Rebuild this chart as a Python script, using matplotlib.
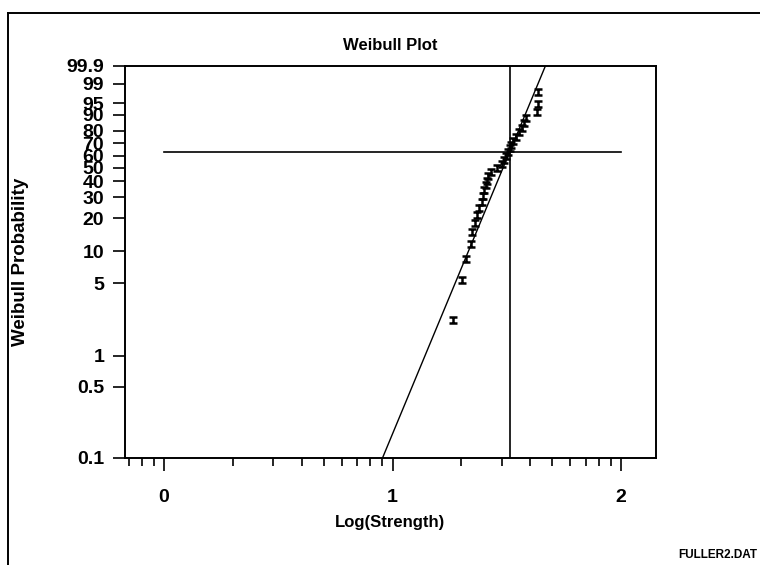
import numpy as np
import matplotlib
matplotlib.use("Agg")
import matplotlib.pyplot as plt
from matplotlib.path import Path
from matplotlib.lines import Line2D
from matplotlib.ticker import FixedLocator, FixedFormatter, NullFormatter

# ---- data ----
log_strength = [1.2635, 1.3028, 1.3217, 1.3435, 1.3479, 1.3611, 1.3676, 1.3786,
                1.3895, 1.3939, 1.4004, 1.4070, 1.4114, 1.4179, 1.4311, 1.4573,
                1.4792, 1.4880, 1.4967, 1.5055, 1.5120, 1.5186, 1.5274, 1.5405,
                1.5536, 1.5667, 1.5755, 1.5842, 1.6324, 1.6346, 1.6368]
prob_pct = [2.2, 5.4, 8.6, 11.8, 15.0, 18.2, 21.3, 24.5, 27.7, 30.9, 34.1,
            37.3, 40.4, 43.6, 46.8, 50.0, 53.2, 56.4, 59.6, 62.7, 65.9, 69.1,
            72.3, 75.5, 78.7, 81.8, 85.0, 88.2, 91.4, 94.6, 97.8]

fit_log_scale = 1.513      # log10 of Weibull scale (vertical reference line)
fit_slope = 12.4           # slope of fitted line in Weibull units per log10 unit
char_pct = 63.21           # characteristic-life probability (horizontal line)
hline_x = [0.0, 2.0]

ytick_vals = [0.1, 0.5, 1, 5, 10, 20, 30, 40, 50, 60, 70, 80, 90, 95, 99, 99.9]
ytick_labels = ["0.1", "0.5", "1", "5", "10", "20", "30", "40", "50", "60",
                "70", "80", "90", "95", "99", "99.9"]
xtick_vals = [0, 1, 2]
xtick_labels = ["0", "1", "2"]

# ---- scales ----
def fwd(p):
    p = np.clip(np.asarray(p, dtype=float), 1e-6, 100 - 1e-6)
    return np.log(-np.log(1 - p / 100.0))

def inv(y):
    y = np.asarray(y, dtype=float)
    return 100.0 * (1 - np.exp(-np.exp(y)))

plt.rcParams['font.family'] = ['Liberation Sans', 'DejaVu Sans']
plt.rcParams['font.weight'] = 'bold'

fig = plt.figure(figsize=(7.6, 5.65), dpi=100)
W, H = 760, 565
ax = fig.add_axes([125 / W, 1 - 458 / H, 531 / W, 392 / H])

ax.set_yscale('function', functions=(fwd, inv))
ax.set_ylim(0.1, 99.9)
ax.set_xlim(-0.171, 2.153)

# data markers: "I" shape
ipath = Path([(-1, 0.75), (1, 0.75), (0, 0.75), (0, -0.75), (-1, -0.75), (1, -0.75)],
             [Path.MOVETO, Path.LINETO, Path.MOVETO, Path.LINETO, Path.MOVETO, Path.LINETO])
ax.plot(log_strength, prob_pct, linestyle='none', marker=ipath, markersize=6,
        markeredgewidth=1.8, color='black', zorder=3)

# fitted line
p_line = np.linspace(0.1, 99.9, 2000)
x_line = fit_log_scale + fwd(p_line) / fit_slope
ax.plot(x_line, p_line, color='black', lw=1.0, zorder=2)

# reference lines
ax.axvline(fit_log_scale, color='black', lw=1.2)
ax.plot(hline_x, [char_pct, char_pct], color='black', lw=1.2)

# ticks
ax.yaxis.set_major_locator(FixedLocator(ytick_vals))
ax.yaxis.set_major_formatter(FixedFormatter(ytick_labels))
ax.yaxis.set_minor_locator(FixedLocator([]))
ax.xaxis.set_major_locator(FixedLocator(xtick_vals))
ax.xaxis.set_major_formatter(FixedFormatter(xtick_labels))
minor = []
for dec in [-1, 0, 1]:
    for k in range(2, 10):
        v = dec + np.log10(k)
        if -0.171 <= v <= 2.153:
            minor.append(v)
ax.xaxis.set_minor_locator(FixedLocator(minor))
ax.xaxis.set_minor_formatter(NullFormatter())

ax.tick_params(axis='y', which='major', direction='out', length=9, width=1.2,
               labelsize=14, pad=6)
ax.tick_params(axis='x', which='major', direction='out', length=9, width=1.2,
               labelsize=14, pad=13)
ax.tick_params(axis='x', which='minor', direction='out', length=6, width=1.2)
for lab in ax.get_xticklabels() + ax.get_yticklabels():
    lab.set_fontweight('bold')

for s in ax.spines.values():
    s.set_linewidth(1.4)

# texts
fig.text(390.5 / W, 1 - 46 / H, "Weibull Plot", ha='center', va='center',
         fontsize=12, fontweight='bold')
fig.text(390.5 / W, 1 - 523 / H, "Log(Strength)", ha='center', va='center',
         fontsize=12, fontweight='bold')
fig.text(21 / W, 1 - 262 / H, "Weibull Probability", ha='center', va='center',
         rotation=90, fontsize=13.5, fontweight='bold')
fig.text(757 / W, 1 - 555 / H, "FULLER2.DAT", ha='right', va='center',
         fontsize=8.5, fontweight='bold')

# outer frame (partially visible)
fig.add_artist(Line2D([8 / W, 1.0], [1 - 13 / H, 1 - 13 / H], transform=fig.transFigure,
                      color='black', lw=1.4))
fig.add_artist(Line2D([8 / W, 8 / W], [0.0, 1 - 13 / H], transform=fig.transFigure,
                      color='black', lw=1.4))

fig.savefig("out.png", dpi=100)
